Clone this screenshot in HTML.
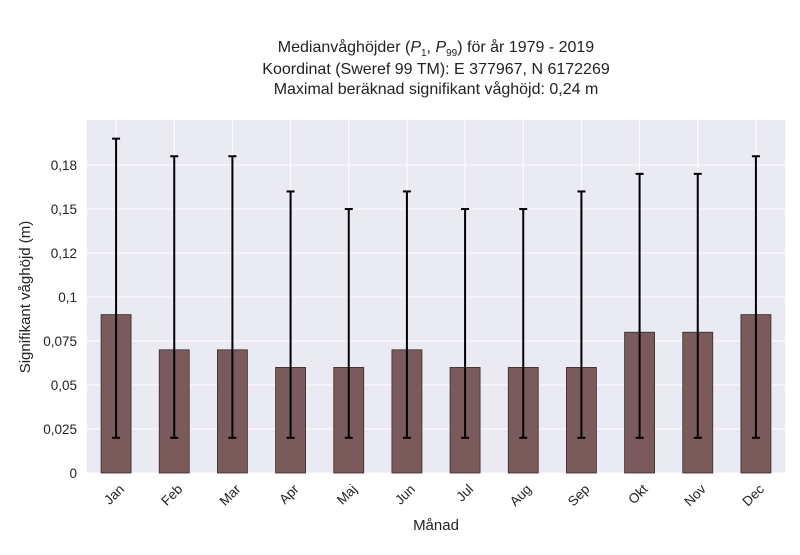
<!DOCTYPE html>
<html><head><meta charset="utf-8"><style>
body{margin:0;background:#fff;}
svg{font-family:"Liberation Sans",sans-serif;}
</style></head><body>
<svg id="chart" width="800" height="550" xmlns="http://www.w3.org/2000/svg">
<g font-size="16" fill="#222" text-anchor="middle">
<text x="436" y="52">Medianvåghöjder (<tspan font-style="italic">P</tspan><tspan font-size="10" dy="4">1</tspan><tspan dy="-4">, </tspan><tspan font-style="italic">P</tspan><tspan font-size="10" dy="4">99</tspan><tspan dy="-4">) för år 1979 - 2019</tspan></text>
<text x="436" y="74">Koordinat (Sweref 99 TM): E 377967, N 6172269</text>
<text x="436" y="94">Maximal beräknad signifikant våghöjd: 0,24 m</text>
</g>
<rect x="87" y="120" width="698" height="353" fill="#eaeaf2"/>
<g id="grid"></g><g id="bars"></g><g id="axes"></g>
<text x="436" y="530" font-size="15" text-anchor="middle" fill="#222">Månad</text>
<text transform="translate(30,297) rotate(-90)" font-size="15" text-anchor="middle" fill="#222">Signifikant våghöjd (m)</text>
</svg>
<script>
const months=["Jan","Feb","Mar","Apr","Maj","Jun","Jul","Aug","Sep","Okt","Nov","Dec"];
const medians=[0.09,0.07,0.07,0.06,0.06,0.07,0.06,0.06,0.06,0.08,0.08,0.09];
const p1=[0.02,0.02,0.02,0.02,0.02,0.02,0.02,0.02,0.02,0.02,0.02,0.02];
const p99=[0.19,0.18,0.18,0.16,0.15,0.16,0.15,0.15,0.16,0.17,0.17,0.18];
const yTicks=[0,0.025,0.05,0.075,0.1,0.125,0.15,0.175];
const yTickLabels=["0","0,025","0,05","0,075","0,1","0,12","0,15","0,18"];
const NS="http://www.w3.org/2000/svg";
const L=87,R=785,B=473,T=120,yMax=0.2006;
const x=i=>L+(i+0.5)*(R-L)/months.length;
const y=v=>B-v/yMax*(B-T);
function mk(p,t,a){const e=document.createElementNS(NS,t);for(const k in a)e.setAttribute(k,a[k]);p.appendChild(e);return e;}
const grid=document.getElementById('grid'),bars=document.getElementById('bars'),axes=document.getElementById('axes');
yTicks.forEach((v,i)=>{
 const g=mk(grid,'line',{x1:L,x2:R,y1:y(v),y2:y(v),stroke:'#fff','stroke-width':1});
 
 
 const t=mk(axes,'text',{x:L-10,y:y(v)+5,'font-size':13.5,'text-anchor':'end',fill:'#222'});
 t.textContent=yTickLabels[i];
 
 
});
months.forEach((m,i)=>{
 const g=mk(grid,'line',{x1:x(i),x2:x(i),y1:T,y2:B,stroke:'#fff','stroke-width':1});
 
 
 const b=mk(bars,'rect',{x:x(i)-15,y:y(medians[i]),width:30,height:B-y(medians[i]),fill:'#7a5a5a',stroke:'#3a2a2a','stroke-width':0.8});
 
 
 const e=mk(bars,'g',{stroke:'#000','stroke-width':2});
 
 
 mk(e,'line',{x1:x(i),x2:x(i),y1:y(p1[i]),y2:y(p99[i])});
 mk(e,'line',{x1:x(i)-4,x2:x(i)+4,y1:y(p1[i]),y2:y(p1[i])});
 mk(e,'line',{x1:x(i)-4,x2:x(i)+4,y1:y(p99[i]),y2:y(p99[i])});
 const t=mk(axes,'text',{'font-size':13.5,'text-anchor':'end',fill:'#222',transform:`translate(${x(i)+9},${B+17}) rotate(-45)`});
 t.textContent=m;
 
 
});
</script>
</body></html>
